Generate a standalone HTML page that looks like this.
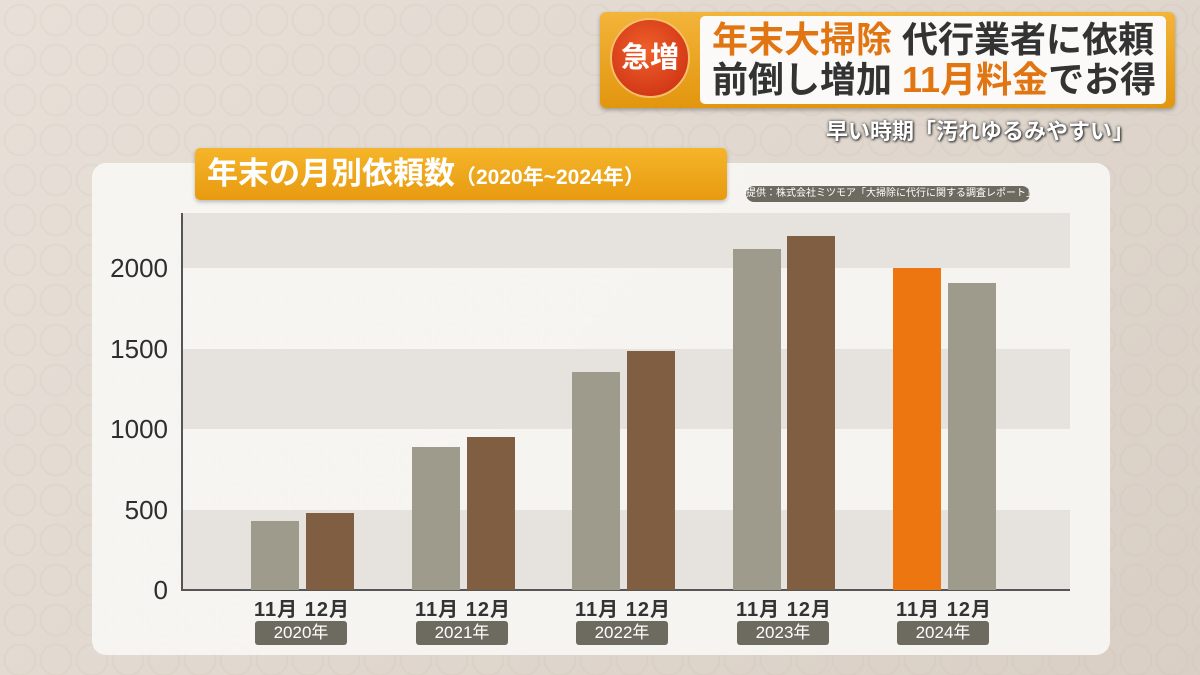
<!DOCTYPE html>
<html><head><meta charset="utf-8"><style>
*{margin:0;padding:0;box-sizing:border-box}
body{width:1200px;height:675px;overflow:hidden;position:relative;background:#e2d9d0;font-family:"Liberation Sans","Noto Sans CJK JP",sans-serif}
.a{position:absolute}
.bg{left:0;top:0;width:1200px;height:675px;background:
radial-gradient(circle at 20px 20px, transparent 14px, rgba(200,185,170,.22) 15px, transparent 17px) 0 0/36px 40px, linear-gradient(135deg,#e8e0d8,#d9cfc5)}
.panel{left:92px;top:163px;width:1018px;height:492px;background:rgba(248,246,243,.93);border-radius:14px}
.band{left:182px;width:888px}
.bar{width:48px;bottom:85px}
.g{background:#9e9a8c}.b{background:#7f5e42}.o{background:#ee7611}
.yl{width:80px;text-align:right;left:88px;font-size:26px;color:#2e2e2e}
.ml{font-size:20px;font-weight:bold;color:#333;top:593px;width:110px;text-align:center;letter-spacing:1px}
.yr{top:621px;height:24px;width:92px;background:#6d6a60;color:#fff;border-radius:3px;font-size:17px;text-align:center;line-height:24px}
</style></head><body>
<div class="a bg"></div>
<div class="a panel"></div>
<div class="a band" style="top:213px;height:55px;background:#e6e3de"></div>
<div class="a band" style="top:349px;height:80px;background:#e6e3de"></div>
<div class="a band" style="top:510px;height:80px;background:#e6e3de"></div>
<div class="a" style="left:181px;top:213px;width:2px;height:377px;background:#555"></div>
<div class="a" style="left:181px;top:589px;width:889px;height:2px;background:#555"></div>
<div class="a yl" style="top:253px">2000</div>
<div class="a yl" style="top:334px">1500</div>
<div class="a yl" style="top:414px">1000</div>
<div class="a yl" style="top:495px">500</div>
<div class="a yl" style="top:575px">0</div>

<div class="a bar g" style="left:251px;top:521px;height:69px"></div>
<div class="a bar b" style="left:306px;top:513px;height:77px"></div>
<div class="a bar g" style="left:412px;top:447px;height:143px"></div>
<div class="a bar b" style="left:467px;top:437px;height:153px"></div>
<div class="a bar g" style="left:572px;top:372px;height:218px"></div>
<div class="a bar b" style="left:627px;top:351px;height:239px"></div>
<div class="a bar g" style="left:733px;top:249px;height:341px"></div>
<div class="a bar b" style="left:787px;top:236px;height:354px"></div>
<div class="a bar o" style="left:893px;top:268px;height:322px"></div>
<div class="a bar g" style="left:948px;top:283px;height:307px"></div>

<div class="a ml" style="left:247px">11月&nbsp;12月</div>
<div class="a ml" style="left:408px">11月&nbsp;12月</div>
<div class="a ml" style="left:568px">11月&nbsp;12月</div>
<div class="a ml" style="left:729px">11月&nbsp;12月</div>
<div class="a ml" style="left:889px">11月&nbsp;12月</div>
<div class="a yr" style="left:255px">2020年</div>
<div class="a yr" style="left:416px">2021年</div>
<div class="a yr" style="left:576px">2022年</div>
<div class="a yr" style="left:737px">2023年</div>
<div class="a yr" style="left:897px">2024年</div>

<div class="a" style="left:195px;top:148px;width:532px;height:52px;background:linear-gradient(#f5b52a,#e89a10);border-radius:5px;box-shadow:0 2px 4px rgba(0,0,0,.25);color:#fff;font-weight:bold;font-size:31px;line-height:52px;padding-left:12px;white-space:nowrap">年末の月別依頼数<span style="font-size:21px">（2020年~2024年）</span></div>
<div class="a" style="left:746px;top:186px;width:284px;height:16px;background:#6d6a60;color:#fff;border-radius:8px;font-size:10px;line-height:16px;text-align:center;white-space:nowrap">提供：株式会社ミツモア「大掃除に代行に関する調査レポート」</div>

<div class="a" style="left:600px;top:12px;width:575px;height:96px;background:linear-gradient(#f3b43a,#e2960e);border-radius:6px;box-shadow:0 2px 4px rgba(0,0,0,.3)"></div>
<div class="a" style="left:610px;top:18px;width:80px;height:80px;border-radius:50%;background:radial-gradient(circle at 45% 40%,#f0602a,#c82a10);border:2px solid #f6c06a;color:#fff;font-weight:bold;font-size:29px;line-height:76px;text-align:center">急増</div>
<div class="a" style="left:700px;top:16px;width:466px;height:88px;background:#fbfaf8;border-radius:5px"></div>
<div class="a" style="left:712px;top:20px;font-size:36px;font-weight:bold;color:#333;line-height:40px;white-space:nowrap"><span style="color:#e07512">年末大掃除</span> 代行業者に依頼<br>前倒し増加 <span style="color:#e07512">11月料金</span>でお得</div>
<div class="a" style="left:826px;top:114px;font-size:22px;font-weight:bold;color:#fff;text-shadow:0 0 3px #333,1px 1px 2px #333;white-space:nowrap">早い時期「汚れゆるみやすい」</div>
</body></html>
